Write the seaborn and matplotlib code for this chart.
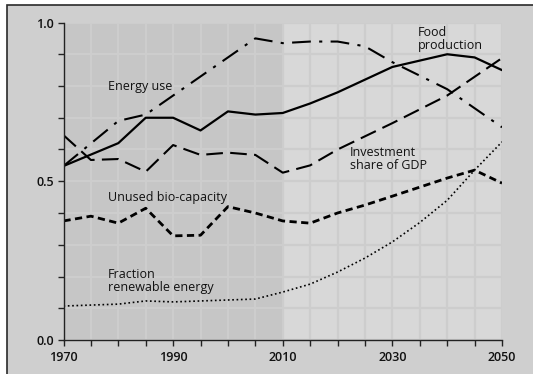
import matplotlib
matplotlib.use("Agg")
import matplotlib.pyplot as plt
import seaborn as sns
import pandas as pd
from matplotlib.patches import Rectangle
from matplotlib.ticker import MultipleLocator, FixedLocator

# values
energy_years = [1970, 1980, 1985, 2005, 2010, 2015, 2020, 2025, 2030, 2040, 2050]
energy_use = [0.548, 0.69, 0.71, 0.95, 0.935, 0.94, 0.94, 0.925, 0.875, 0.79, 0.67]

food_years = [1970, 1980, 1985, 1990, 1995, 2000, 2005, 2010, 2015, 2020, 2030, 2040, 2045, 2050]
food_production = [0.548, 0.62, 0.70, 0.70, 0.66, 0.72, 0.71, 0.715, 0.745, 0.78, 0.86, 0.90, 0.89, 0.85]

invest_years = [1970, 1975, 1980, 1985, 1990, 1995, 2000, 2005, 2010, 2015, 2020, 2030, 2040, 2050]
investment_share = [0.645, 0.567, 0.57, 0.53, 0.614, 0.583, 0.59, 0.583, 0.527, 0.55, 0.60, 0.683, 0.77, 0.888]

bio_years = [1970, 1975, 1980, 1985, 1990, 1995, 2000, 2005, 2010, 2015, 2020, 2025, 2030, 2040, 2045, 2050]
unused_bio = [0.375, 0.39, 0.368, 0.415, 0.328, 0.33, 0.42, 0.40, 0.375, 0.368, 0.40, 0.425, 0.453, 0.51, 0.535, 0.494]

renew_years = [1970, 1980, 1985, 1990, 2000, 2005, 2010, 2015, 2020, 2025, 2030, 2035, 2040, 2045, 2050]
renewable_frac = [0.107, 0.113, 0.123, 0.12, 0.126, 0.129, 0.151, 0.176, 0.214, 0.258, 0.309, 0.37, 0.44, 0.535, 0.624]

x_ticks = [1970, 1990, 2010, 2030, 2050]
y_ticks = [0.0, 0.5, 1.0]

sns.set_style("white")
plt.rcParams['font.family'] = ['Open Sans', 'DejaVu Sans']

fig = plt.figure(figsize=(5.33, 3.74), dpi=100, facecolor='white')
# grey panel with dark frame (top + left edges visible)
fig.add_artist(Rectangle((6.5/533, -0.2), 1.2, 1.2 - 4.5/374, transform=fig.transFigure,
                         facecolor='#cfcfcf', edgecolor='#2a2a2a', lw=1.2, zorder=-10))
ax = fig.add_axes([63.5/533, 1 - 340/374, (502 - 63.5)/533, (340 - 22.5)/374])
ax.set_facecolor('#d8d8d8')
ax.axvspan(1970, 2010, color='#c6c6c6', zorder=0, lw=0)

ax.set_xlim(1970, 2050)
ax.set_ylim(0, 1.0)
ax.xaxis.set_major_locator(FixedLocator(x_ticks))
ax.xaxis.set_minor_locator(MultipleLocator(5))
ax.yaxis.set_major_locator(FixedLocator(y_ticks))
ax.yaxis.set_minor_locator(MultipleLocator(0.1))
ax.grid(True, which='both', color='#cdcdcd', lw=1.6, zorder=1)
ax.set_axisbelow(True)
ax.yaxis.set_major_formatter(matplotlib.ticker.FormatStrFormatter('%.1f'))
ax.tick_params(which='both', direction='out', length=4, width=1, color='#222222',
               labelsize=9, bottom=True, left=True, labelcolor='#111111')
ax.tick_params(axis='x', pad=4)
ax.tick_params(axis='y', pad=3)
for lab in ax.get_xticklabels() + ax.get_yticklabels():
    lab.set_fontweight('semibold')
for s in ['top', 'right']:
    ax.spines[s].set_visible(False)
for s in ['left', 'bottom']:
    ax.spines[s].set_color('#222222')
    ax.spines[s].set_linewidth(1)

sns.lineplot(x=energy_years, y=energy_use, ax=ax, color='black', lw=1.5,
             linestyle=(0, (9, 4, 1.5, 4)))
sns.lineplot(x=food_years, y=food_production, ax=ax, color='black', lw=1.6, linestyle='-')
sns.lineplot(x=invest_years, y=investment_share, ax=ax, color='black', lw=1.5,
             linestyle=(0, (8, 3.5)))
sns.lineplot(x=bio_years, y=unused_bio, ax=ax, color='black', lw=2.0,
             linestyle=(0, (2.6, 1.6)))
sns.lineplot(x=renew_years, y=renewable_frac, ax=ax, color='black', lw=1.2,
             linestyle=(0, (1, 1.6)))
ax.set_xlabel('')
ax.set_ylabel('')

fs = 9
ax.text(1978.1, 0.797, 'Energy use', fontsize=fs, va='center', ha='left', color='#111111')
ax.text(2034.6, 0.948, 'Food\nproduction', fontsize=fs, va='center', ha='left',
        linespacing=1.05, color='#111111')
ax.text(2022.3, 0.57, 'Investment\nshare of GDP', fontsize=fs, va='center', ha='left',
        linespacing=1.05, color='#111111')
ax.text(1978.1, 0.45, 'Unused bio-capacity', fontsize=fs, va='center', ha='left', color='#111111')
ax.text(1978.1, 0.186, 'Fraction\nrenewable energy', fontsize=fs, va='center', ha='left',
        linespacing=1.05, color='#111111')

fig.savefig('out.png', dpi=100, facecolor=fig.get_facecolor())
